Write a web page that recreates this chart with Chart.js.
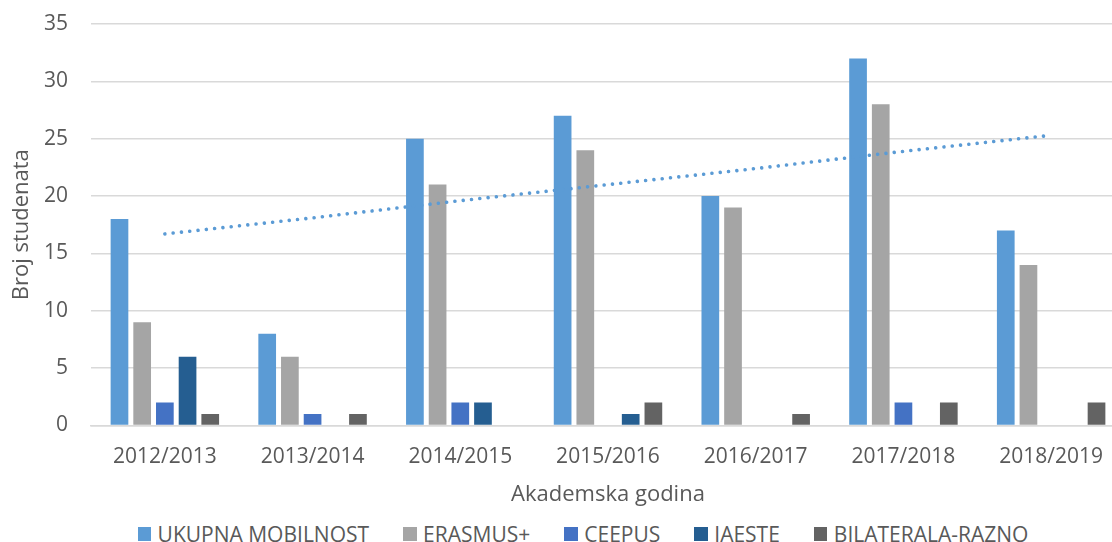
<!DOCTYPE html>
<html>
<head>
<meta charset="utf-8">
<script src="https://cdn.jsdelivr.net/npm/chart.js@4.4.0/dist/chart.umd.min.js"></script>
<style>
  html, body { margin: 0; padding: 0; background: #fff; overflow: hidden; }
  #wrap { position: relative; width: 1112px; height: 542px; overflow: hidden; }
  #chart-box { position: absolute; left: 0; top: 0; width: 1160px; height: 515px; }
  #chart-legend {
    position: absolute; left: 0; top: 520px; width: 1166px;
    display: flex; justify-content: center;
    font-family: "Open Sans", sans-serif; font-size: 21px; color: #595959;
    white-space: nowrap;
  }
  .chart-legend-item { display: flex; align-items: center; margin: 0 17px; }
  .chart-legend-dot  { width: 13.5px; height: 13.5px; margin-right: 6.5px; }
</style>
</head>
<body>
<div id="wrap">
  <div id="chart-box"><canvas id="myChart" width="1160" height="515"></canvas></div>
  <div id="chart-legend"></div>
</div>
<script>
// ── Data ──────────────────────────────────────────────────────────────────────
const years      = ["2012/2013", "2013/2014", "2014/2015", "2015/2016", "2016/2017", "2017/2018", "2018/2019"];
const ukupna     = [18,  8, 25, 27, 20, 32, 17];
const erasmus    = [ 9,  6, 21, 24, 19, 28, 14];
const ceepus     = [ 2,  1,  2,  0,  0,  2,  0];
const iaeste     = [ 6,  0,  2,  1,  0,  0,  0];
const bilaterala = [ 1,  1,  0,  2,  1,  2,  2];
// linear trend of UKUPNA MOBILNOST
const trend      = [16.7, 18.1, 19.6, 21.0, 22.4, 23.9, 25.3];
const yTicks     = [0, 5, 10, 15, 20, 25, 30, 35];

const FONT  = "'Open Sans', sans-serif";
const TEXT  = "#595959";
const GRID  = "#d9d9d9";

const series = [
  { label: "UKUPNA MOBILNOST", data: ukupna,     color: "#5B9BD5" },
  { label: "ERASMUS+",         data: erasmus,    color: "#A5A5A5" },
  { label: "CEEPUS",           data: ceepus,     color: "#4472C4" },
  { label: "IAESTE",           data: iaeste,     color: "#255E91" },
  { label: "BILATERALA-RAZNO", data: bilaterala, color: "#636363" },
];

// ── Datasets ──────────────────────────────────────────────────────────────────
const datasets = series.map(s => ({
  type:               "bar",
  label:              s.label,
  data:               s.data,
  backgroundColor:    s.color,
  categoryPercentage: 0.768,
  barPercentage:      0.78,
  order:              1,
}));
datasets.push({
  type:           "line",
  label:          "Linear (UKUPNA MOBILNOST)",
  data:           trend,
  borderColor:    "#5B9BD5",
  borderWidth:    3.6,
  borderDash:     [0.01, 8.33],
  borderCapStyle: "round",
  pointRadius:    0,
  tension:        0,
  fill:           false,
  order:          0,
});

new Chart(document.getElementById("myChart").getContext("2d"), {
  type: "bar",
  data: { labels: years, datasets },
  options: {
    animation: false,
    responsive: false,
    layout: { padding: { top: 24, right: 35, left: 0, bottom: 0 } },
    plugins: { legend: { display: false }, tooltip: { enabled: false } },
    scales: {
      x: {
        grid:   { display: false, drawTicks: false },
        border: { color: GRID, width: 1.5 },
        ticks:  { padding: 19, color: TEXT, font: { family: FONT, size: 21 } },
        title:  { display: true, text: "Akademska godina", color: TEXT, font: { family: FONT, size: 22 }, padding: { top: 0, bottom: 7 } },
        afterFit: s => { s.height = 89.5; },
      },
      y: {
        min: yTicks[0], max: yTicks[yTicks.length - 1],
        afterBuildTicks: s => { s.ticks = yTicks.map(v => ({ value: v })); },
        // invisible tick marks make the gap between labels and grid
        grid:   { color: GRID, lineWidth: 1.5, drawTicks: true, tickLength: 20, tickColor: "rgba(0,0,0,0)" },
        border: { display: false },
        ticks:  { padding: 3, color: TEXT, font: { family: FONT, size: 21 } },
        title:  { display: true, text: "Broj studenata", color: TEXT, font: { family: FONT, size: 22 }, padding: { top: 9, bottom: 0 } },
        afterFit: s => { s.width = 91; },
      },
    },
  },
});

// Legend (bars only, trendline left out)
document.getElementById("chart-legend").innerHTML = series.map(s =>
  `<div class="chart-legend-item"><div class="chart-legend-dot" style="background:${s.color}"></div><span>${s.label}</span></div>`
).join("");
</script>
</body>
</html>
